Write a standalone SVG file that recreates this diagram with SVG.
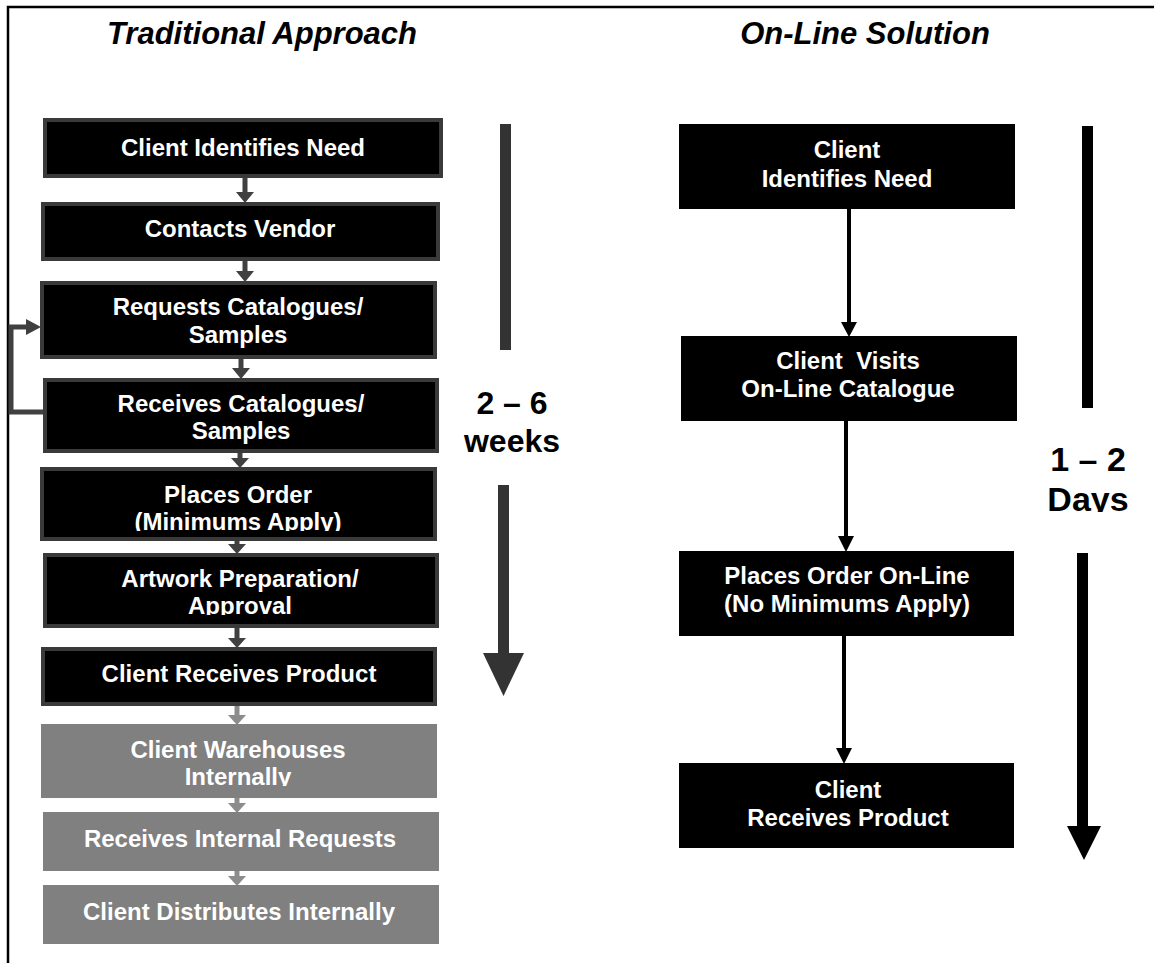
<svg xmlns="http://www.w3.org/2000/svg" width="1154" height="963" viewBox="0 0 1154 963">
<style>
.t{font-family:"Liberation Sans",Arial,sans-serif;font-weight:bold;font-size:24px;fill:#fff;text-anchor:middle}
.title{font-family:"Liberation Sans",Arial,sans-serif;font-weight:bold;font-style:italic;font-size:31px;fill:#000;text-anchor:middle}
.dur{font-family:"Liberation Sans",Arial,sans-serif;font-weight:bold;font-size:34px;fill:#000;text-anchor:middle}
.dur2{font-family:"Liberation Sans",Arial,sans-serif;font-weight:bold;font-size:32px;fill:#000;text-anchor:middle}
.bk{fill:#000;stroke:#3a3a3a;stroke-width:4}
.gr{fill:#808080}
.rb{fill:#000}
.ca{stroke:#404040;stroke-width:5;fill:none}
.cah{fill:#404040}
.ga{stroke:#8c8c8c;stroke-width:5;fill:none}
.gah{fill:#8c8c8c}
.ra{stroke:#000;stroke-width:4;fill:none}
.rah{fill:#000}
</style>
<defs>
<clipPath id="c5"><rect x="42" y="469" width="393" height="62"/></clipPath>
<clipPath id="c6"><rect x="45" y="555" width="392" height="60"/></clipPath>
<clipPath id="c8"><rect x="41" y="724" width="396" height="62"/></clipPath>
<clipPath id="c12"><rect x="1000" y="420" width="154" height="92"/></clipPath>
</defs>
<rect width="1154" height="963" fill="#fff"/>
<g id="frame">
<path d="M8 963 V7 H1154" stroke="#000" stroke-width="2.5" fill="none"/>
</g>
<g id="titles">
<text class="title" x="262" y="44">Traditional Approach</text>
<text class="title" x="865" y="44">On-Line Solution</text>
</g>
<g id="connectors">
<line class="ca" x1="245" y1="176" x2="245" y2="194"/><polygon class="cah" points="236,192 254,192 245,203"/>
<line class="ca" x1="245" y1="259" x2="245" y2="273"/><polygon class="cah" points="236,271 254,271 245,282"/>
<line class="ca" x1="241" y1="357" x2="241" y2="370"/><polygon class="cah" points="232,368 250,368 241,379"/>
<line class="ca" x1="240" y1="451" x2="240" y2="460"/><polygon class="cah" points="231,458 249,458 240,468"/>
<line class="ca" x1="237" y1="539" x2="237" y2="546"/><polygon class="cah" points="228,544 246,544 237,554"/>
<line class="ca" x1="237" y1="626" x2="237" y2="640"/><polygon class="cah" points="228,638 246,638 237,648"/>
<line class="ga" x1="237" y1="706" x2="237" y2="717"/><polygon class="gah" points="228,715 246,715 237,725"/>
<line class="ga" x1="237" y1="798" x2="237" y2="805"/><polygon class="gah" points="228,803 246,803 237,813"/>
<line class="ga" x1="237" y1="871" x2="237" y2="878"/><polygon class="gah" points="228,876 246,876 237,886"/>
<path class="ca" d="M43 412 H11 V327 H28"/><polygon class="cah" points="26,319 26,335 41,327"/>
<line class="ra" x1="849" y1="209" x2="849" y2="324"/><polygon class="rah" points="841,322 857,322 849,337"/>
<line class="ra" x1="846" y1="421" x2="846" y2="538"/><polygon class="rah" points="838,536 854,536 846,552"/>
<line class="ra" x1="844" y1="636" x2="844" y2="750"/><polygon class="rah" points="836,748 852,748 844,764"/>
</g>
<g id="n1"><rect class="bk" x="45" y="120" width="396" height="56"/><text class="t" x="243" y="156">Client Identifies Need</text></g>
<g id="n2"><rect class="bk" x="43" y="204" width="395" height="55"/><text class="t" x="240" y="237">Contacts Vendor</text></g>
<g id="n3"><rect class="bk" x="42" y="283" width="393" height="74"/><text class="t" x="238" y="315">Requests Catalogues/</text><text class="t" x="238" y="343">Samples</text></g>
<g id="n4"><rect class="bk" x="45" y="380" width="392" height="71"/><text class="t" x="241" y="412">Receives Catalogues/</text><text class="t" x="241" y="439">Samples</text></g>
<g id="n5"><rect class="bk" x="42" y="469" width="393" height="70"/><g clip-path="url(#c5)"><text class="t" x="238" y="503">Places Order</text><text class="t" x="238" y="530">(Minimums Apply)</text></g></g>
<g id="n6"><rect class="bk" x="45" y="555" width="392" height="71"/><g clip-path="url(#c6)"><text class="t" x="240" y="587">Artwork Preparation/</text><text class="t" x="240" y="614">Approval</text></g></g>
<g id="n7"><rect class="bk" x="43" y="649" width="392" height="55"/><text class="t" x="239" y="682">Client Receives Product</text></g>
<g id="n8"><rect class="gr" x="41" y="724" width="396" height="74"/><g clip-path="url(#c8)"><text class="t" x="238" y="758">Client Warehouses</text><text class="t" x="238" y="785">Internally</text></g></g>
<g id="n9"><rect class="gr" x="43" y="812" width="396" height="59"/><text class="t" x="240" y="847">Receives Internal Requests</text></g>
<g id="n10"><rect class="gr" x="43" y="885" width="396" height="59"/><text class="t" x="239" y="920">Client Distributes Internally</text></g>
<g id="timeline-left">
<rect fill="#333" x="500" y="124" width="11" height="226"/>
<rect fill="#333" x="498" y="485" width="11" height="170"/>
<polygon fill="#333" points="483,653 524,653 503.5,696"/>
<text class="dur2" x="512" y="414">2 – 6</text>
<text class="dur2" x="512" y="452">weeks</text>
</g>
<g id="r1"><rect class="rb" x="679" y="124" width="336" height="85"/><text class="t" x="847" y="158">Client</text><text class="t" x="847" y="187">Identifies Need</text></g>
<g id="r2"><rect class="rb" x="681" y="336" width="336" height="85"/><text class="t" x="848" y="369">Client&#160; Visits</text><text class="t" x="848" y="397">On-Line Catalogue</text></g>
<g id="r3"><rect class="rb" x="679" y="551" width="335" height="85"/><text class="t" x="847" y="584">Places Order On-Line</text><text class="t" x="847" y="612">(No Minimums Apply)</text></g>
<g id="r4"><rect class="rb" x="679" y="763" width="335" height="85"/><text class="t" x="848" y="798">Client</text><text class="t" x="848" y="826">Receives Product</text></g>
<g id="timeline-right">
<rect fill="#000" x="1082" y="126" width="11" height="282"/>
<rect fill="#000" x="1077" y="553" width="11" height="275"/>
<polygon fill="#000" points="1067,826 1101,826 1084,860"/>
<text class="dur" x="1088" y="471">1 – 2</text>
<g clip-path="url(#c12)"><text class="dur" x="1088" y="511">Days</text></g>
</g>
</svg>
